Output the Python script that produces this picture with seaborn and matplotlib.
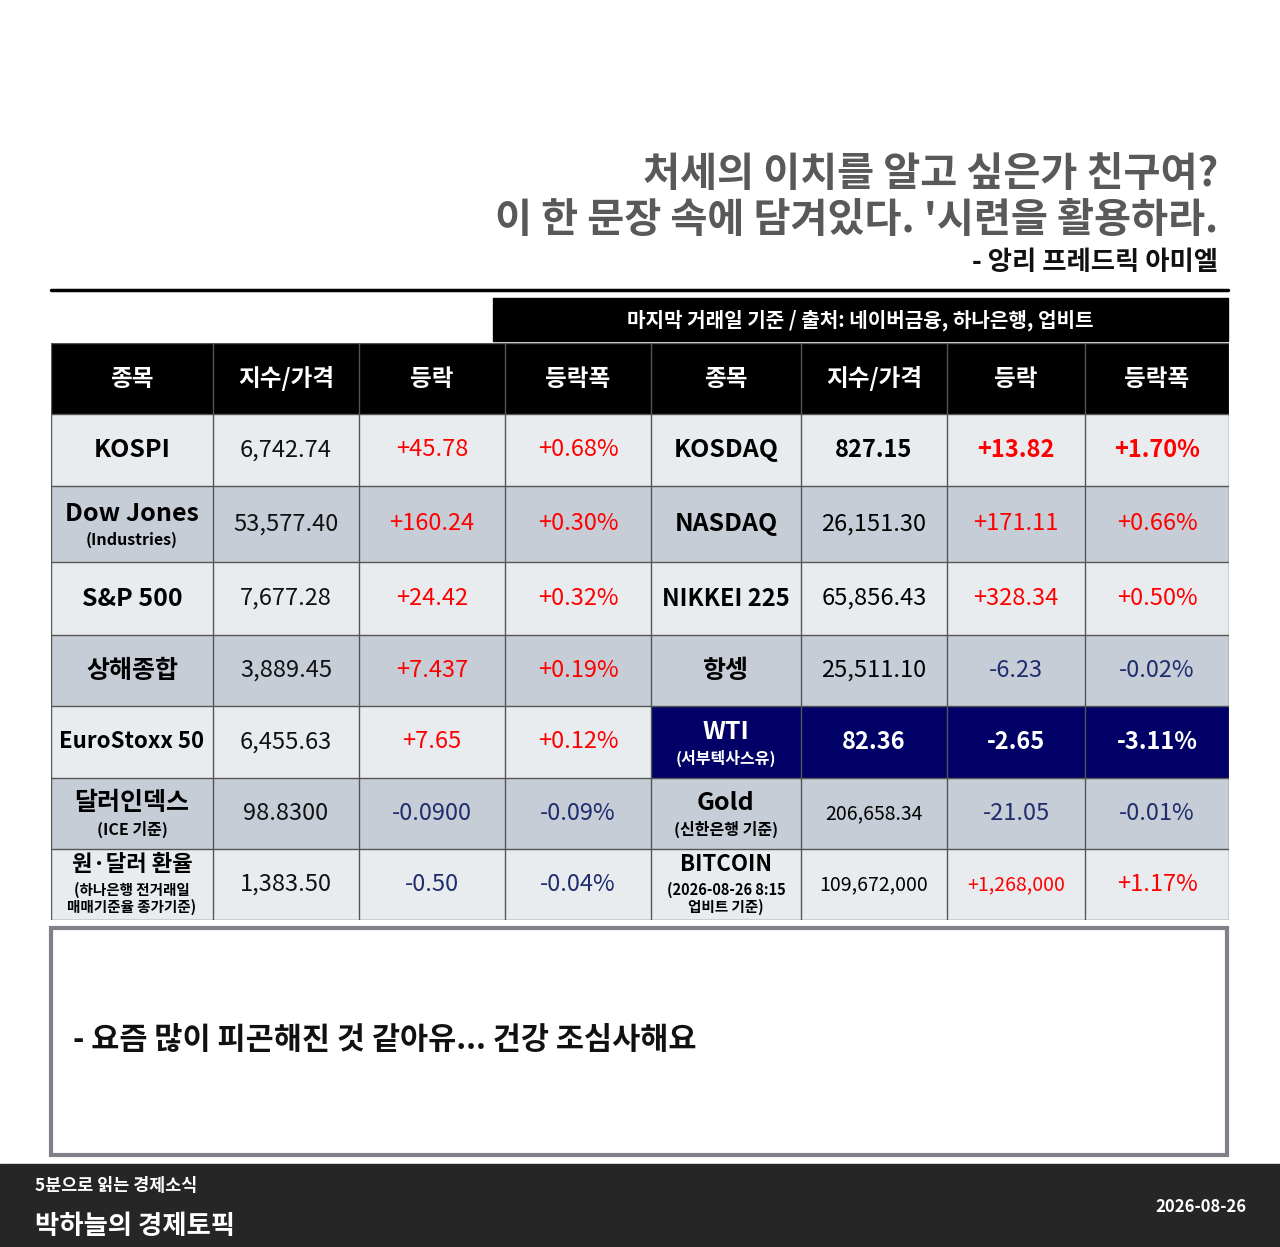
import numpy as np
import pandas as pd
import matplotlib
matplotlib.use("Agg")
import matplotlib.pyplot as plt
import matplotlib.patches as mpatches
import seaborn as sns

sns.set_theme(style="white")
plt.rcParams["font.family"] = ["Noto Sans CJK KR", "DejaVu Sans"]

# ----------------------------------------------------------------------
# DATA
# ----------------------------------------------------------------------
headers = ["종목", "지수/가격", "등락", "등락폭", "종목", "지수/가격", "등락", "등락폭"]

left_names = ["KOSPI", "Dow Jones", "S&P 500", "상해종합", "EuroStoxx 50", "달러인덱스", "원·달러 환율"]
left_subs = ["", "(Industries)", "", "", "", "(ICE 기준)", "(하나은행 전거래일\n매매기준율 종가기준)"]
left_price = ["6,742.74", "53,577.40", "7,677.28", "3,889.45", "6,455.63", "98.8300", "1,383.50"]
left_chg = ["+45.78", "+160.24", "+24.42", "+7.437", "+7.65", "-0.0900", "-0.50"]
left_pct = ["+0.68%", "+0.30%", "+0.32%", "+0.19%", "+0.12%", "-0.09%", "-0.04%"]

right_names = ["KOSDAQ", "NASDAQ", "NIKKEI 225", "항셍", "WTI", "Gold", "BITCOIN"]
right_subs = ["", "", "", "", "(서부텍사스유)", "(신한은행 기준)", "(2026-08-26 8:15\n업비트 기준)"]
right_price = ["827.15", "26,151.30", "65,856.43", "25,511.10", "82.36", "206,658.34", "109,672,000"]
right_chg = ["+13.82", "+171.11", "+328.34", "-6.23", "-2.65", "-21.05", "+1,268,000"]
right_pct = ["+1.70%", "+0.66%", "+0.50%", "-0.02%", "-3.11%", "-0.01%", "+1.17%"]

title_lines = ["처세의 이치를 알고 싶은가 친구여?", "이 한 문장 속에 담겨있다. '시련을 활용하라."]
author = "- 앙리 프레드릭 아미엘"
source = "마지막 거래일 기준 / 출처: 네이버금융, 하나은행, 업비트"
memo = "- 요즘 많이 피곤해진 것 같아유... 건강 조심사해요"
footer_small = "5분으로 읽는 경제소식"
footer_big = "박하늘의 경제토픽"
date_str = "2026-08-26"

# ----------------------------------------------------------------------
# LAYOUT (pixels)
# ----------------------------------------------------------------------
W, H = 1280, 1247
col_edges = [51, 213, 359, 505, 651, 801, 947, 1085, 1229]
row_edges = [343, 414, 486, 562, 635, 706, 778, 849, 920]
x0, y0 = col_edges[0], row_edges[0]
tw, th = col_edges[-1] - x0, row_edges[-1] - y0

# cell categories: 0 header, 1 light, 2 gray, 3 navy
cat = np.zeros((8, 8), dtype=int)
for r in range(1, 8):
    cat[r, :] = 1 if r % 2 == 1 else 2
cat[5, 4:] = 3
cmap = matplotlib.colors.ListedColormap(["#000000", "#e9ecef", "#c6cdd6", "#000066"])

col_w = np.diff(col_edges)
row_h = np.diff(row_edges)
grid = np.repeat(np.repeat(cat, row_h, axis=0), col_w, axis=1)

fig = plt.figure(figsize=(W / 100, H / 100), dpi=100)
bg = fig.add_axes([0, 0, 1, 1])
bg.set_xlim(0, W)
bg.set_ylim(H, 0)
bg.axis("off")

# title
for i, (t, y) in enumerate(zip(title_lines, [175, 220])):
    bg.text(1218, y, t, ha="right", va="center", fontsize=29, fontweight="bold", color="#595959")
bg.text(1218, 262, author, ha="right", va="center", fontsize=19, fontweight="bold", color="#111111")
bg.plot([51, 1228], [290, 290], color="black", lw=2.5)
bg.add_patch(mpatches.Rectangle((493, 298), 735, 43, color="black"))
bg.text(860, 320, source, ha="center", va="center", fontsize=14.5, fontweight="bold", color="white")

# memo box
bg.add_patch(mpatches.Rectangle((51, 928), 1176, 227, fill=False, ec="#7f8088", lw=3))
bg.text(73, 1040, memo, ha="left", va="center", fontsize=22, fontweight="bold", color="#111111")

# footer
bg.add_patch(mpatches.Rectangle((0, 1164), W, H - 1164, color="#262626"))
bg.text(35, 1186, footer_small, ha="left", va="center", fontsize=12.5, fontweight="bold", color="white")
bg.text(35, 1226, footer_big, ha="left", va="center", fontsize=19, fontweight="bold", color="white")
bg.text(1246, 1207, date_str, ha="right", va="center", fontsize=12, fontweight="bold", color="white")

# table via heatmap
ax = fig.add_axes([x0 / W, 1 - (y0 + th) / H, tw / W, th / H])
sns.heatmap(pd.DataFrame(grid), ax=ax, cmap=cmap, vmin=-0.5, vmax=3.5, cbar=False,
            xticklabels=False, yticklabels=False)
for x in col_edges:
    ax.axvline(x - x0, color="#555555", lw=1)
for y in row_edges:
    ax.axhline(y - y0, color="#555555", lw=1)

cx = [(a + b) / 2 - x0 for a, b in zip(col_edges[:-1], col_edges[1:])]
cy = [(a + b) / 2 - y0 for a, b in zip(row_edges[:-1], row_edges[1:])]

for j, h in enumerate(headers):
    ax.text(cx[j], cy[0], h, ha="center", va="center", fontsize=17, fontweight="bold", color="white")

RED, NEG = "#ff0000", "#1f2d6e"


def chg_color(s):
    return RED if s.startswith("+") else NEG


def name_cell(c, r, name, sub, color, fs=18):
    if not sub:
        ax.text(cx[c], cy[r], name, ha="center", va="center", fontsize=fs, fontweight="bold", color=color)
    elif "\n" in sub:
        ax.text(cx[c], cy[r] - 20, name, ha="center", va="center", fontsize=16, fontweight="bold", color=color)
        ax.text(cx[c], cy[r] + 14, sub, ha="center", va="center", fontsize=10.5, fontweight="bold",
                color=color, linespacing=1.0)
    else:
        ax.text(cx[c], cy[r] - 10, name, ha="center", va="center", fontsize=fs, fontweight="bold", color=color)
        ax.text(cx[c], cy[r] + 16, sub, ha="center", va="center", fontsize=11.5, fontweight="bold", color=color)


for i in range(7):
    r = i + 1
    fs_name = 16 if left_names[i] == "EuroStoxx 50" else 18
    name_cell(0, r, left_names[i], left_subs[i], "black", fs_name)
    ax.text(cx[1], cy[r], left_price[i], ha="center", va="center", fontsize=17, color="#111111")
    ax.text(cx[2], cy[r], left_chg[i], ha="center", va="center", fontsize=17, color=chg_color(left_chg[i]))
    ax.text(cx[3], cy[r], left_pct[i], ha="center", va="center", fontsize=17, color=chg_color(left_pct[i]))

    navy = cat[r, 4] == 3
    bold = navy or i == 0
    tcol = "white" if navy else "black"
    fs_name = 17 if right_names[i] == "NIKKEI 225" else 18
    name_cell(4, r, right_names[i], right_subs[i], tcol, fs_name)
    fs_val = 14 if len(right_price[i]) > 9 else 17
    ax.text(cx[5], cy[r], right_price[i], ha="center", va="center", fontsize=fs_val,
            fontweight="bold" if bold else "normal", color=tcol)
    fs_chg = 14 if len(right_chg[i]) > 8 else 17
    ax.text(cx[6], cy[r], right_chg[i], ha="center", va="center", fontsize=fs_chg,
            fontweight="bold" if bold else "normal",
            color="white" if navy else chg_color(right_chg[i]))
    ax.text(cx[7], cy[r], right_pct[i], ha="center", va="center", fontsize=17,
            fontweight="bold" if bold else "normal",
            color="white" if navy else chg_color(right_pct[i]))

fig.savefig("out.png", dpi=100)
